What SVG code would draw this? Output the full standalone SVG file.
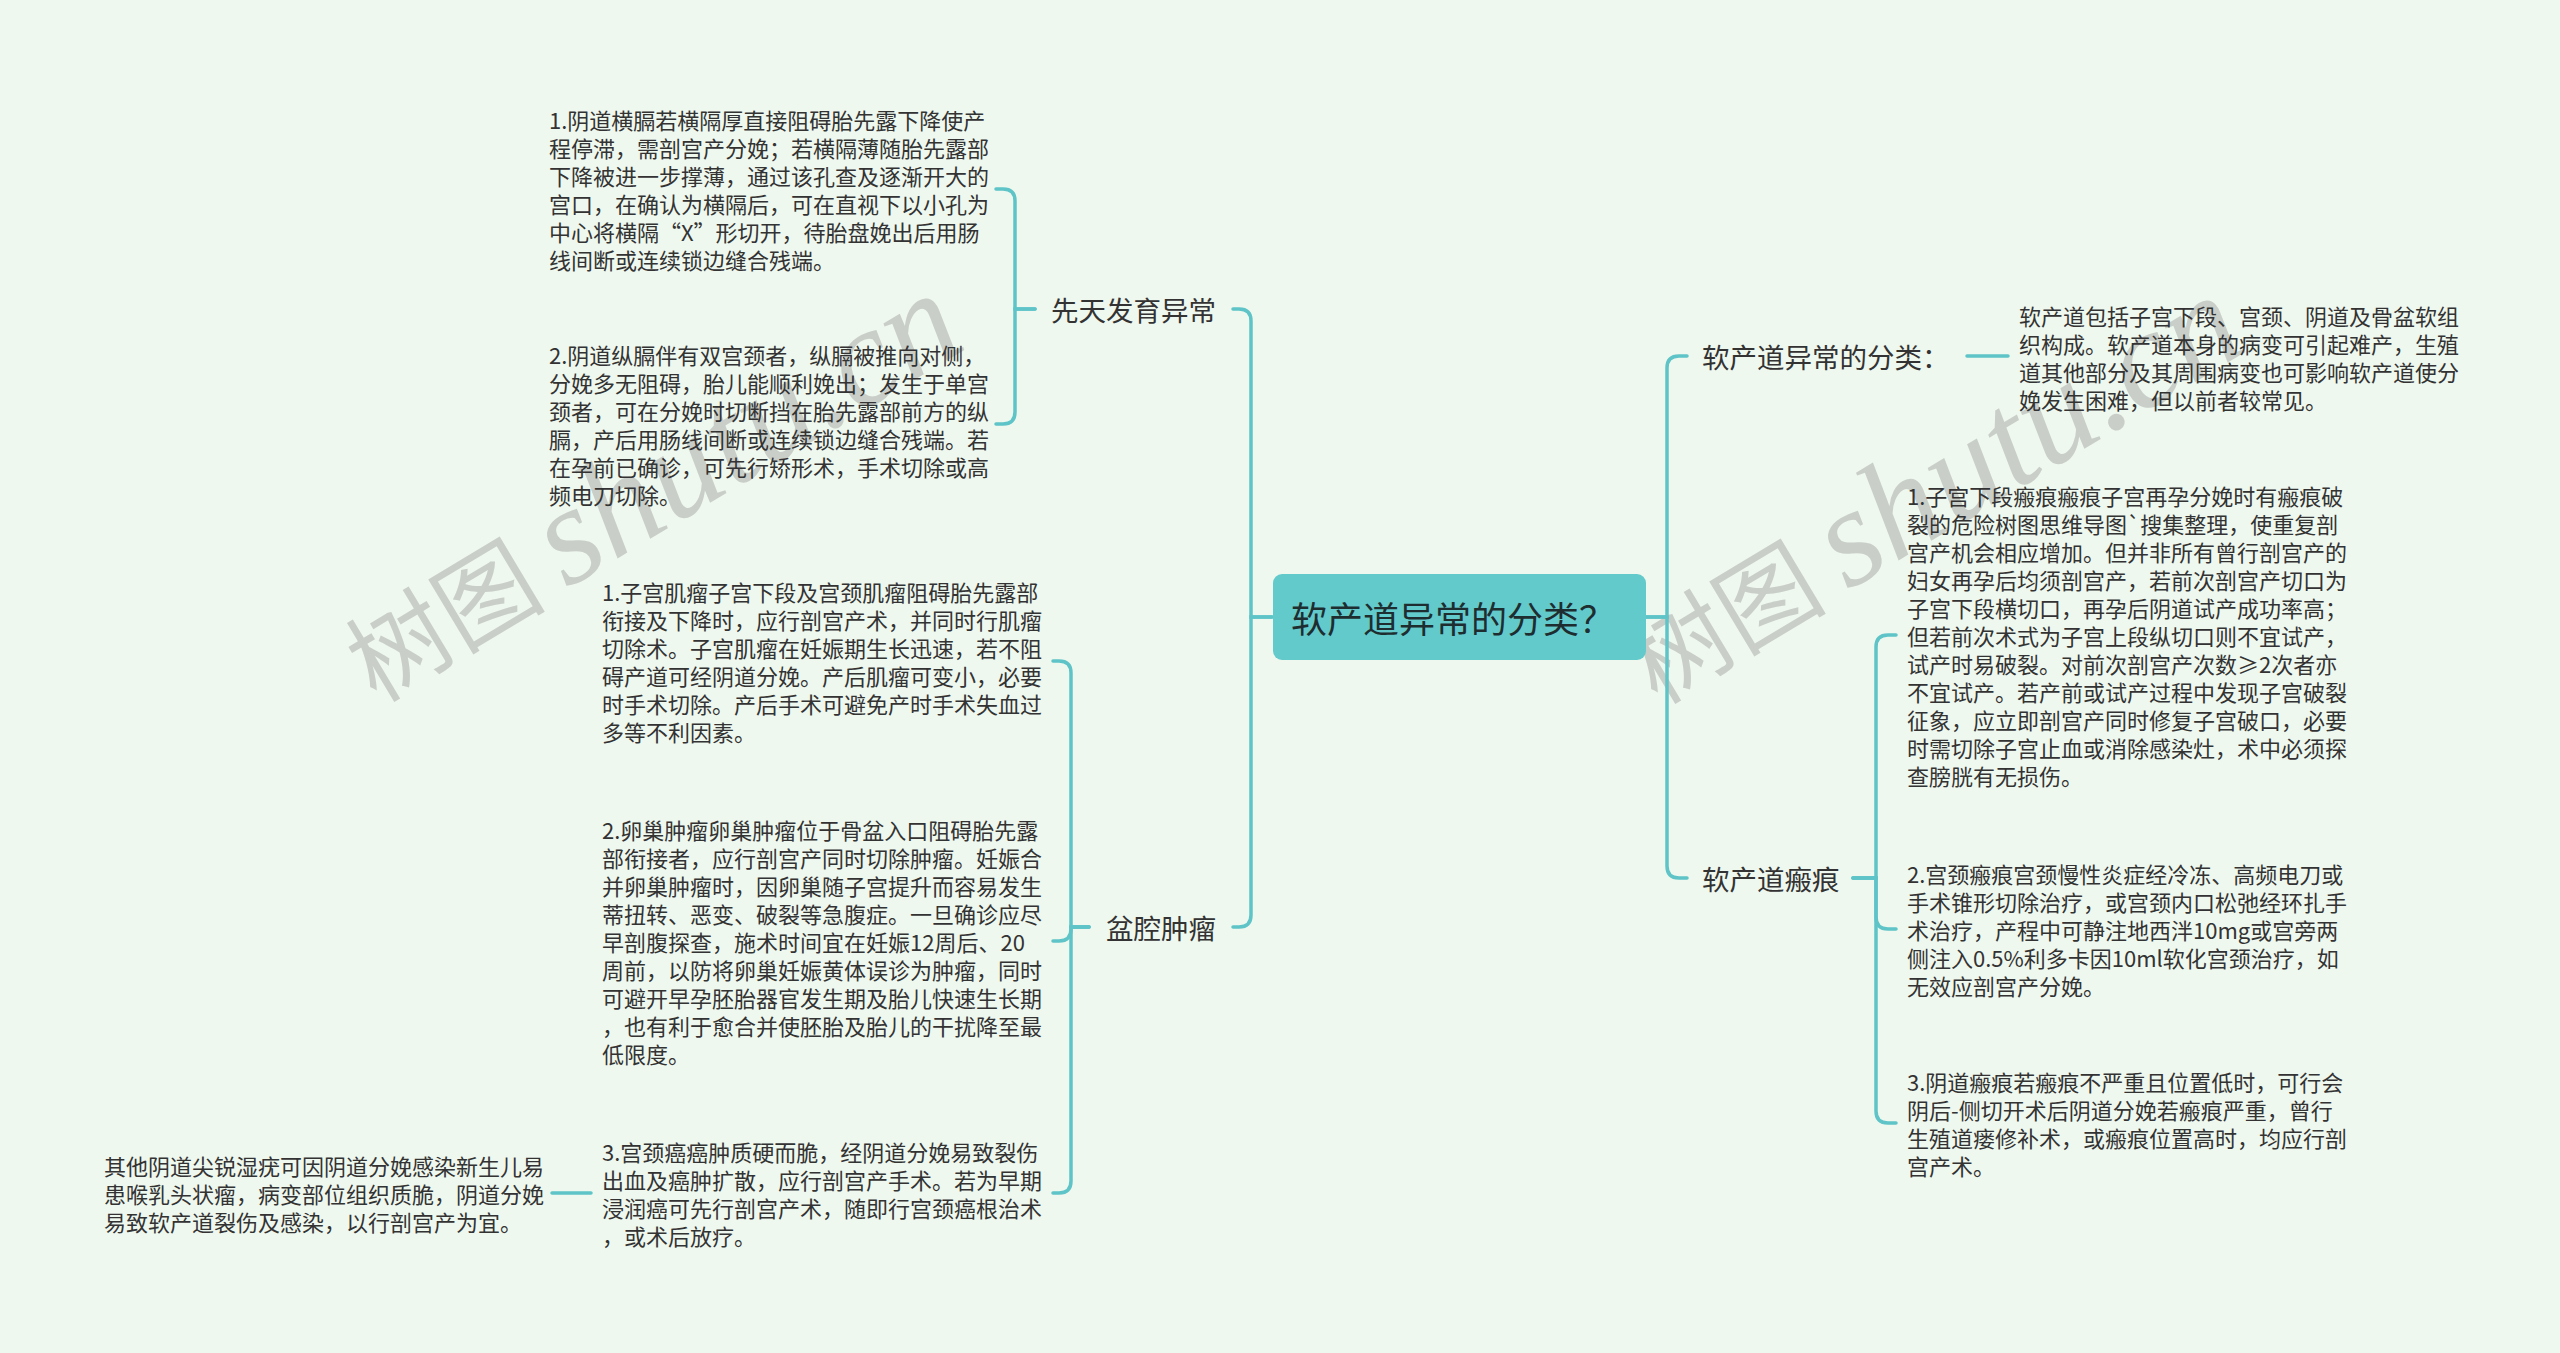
<svg xmlns="http://www.w3.org/2000/svg" width="2560" height="1353" viewBox="0 0 2560 1353">
<style>
text, tspan { font-family: "Noto Sans CJK SC", "Noto Sans", sans-serif; dominant-baseline: central; }
.bg { fill: #eff8ef; }
.wm { fill: #c9cec9; }
.wm tspan { dominant-baseline: alphabetic; }
.wm tspan.lat { font-family: "Liberation Serif", serif; font-style: italic; }
.wm tspan.cjk { font-family: "Noto Sans CJK SC", sans-serif; }
.link { fill: none; stroke: #5fc4c7; stroke-width: 3.5; stroke-linecap: round; }
.root rect { fill: #63cacc; }
.root text { font-size: 36px; fill: #1e2e30; }
.l1 { font-size: 27.5px; fill: #333333; }
.leaf { font-size: 22px; fill: #333333; }
</style>
<rect class="bg" x="0" y="0" width="2560" height="1353"/>

<g id="watermarks">
  <text class="wm" transform="translate(376,703) rotate(-31)"><tspan class="cjk" font-size="100">树图</tspan><tspan class="lat" font-size="140" dx="22">shutu.cn</tspan></text>
  <text class="wm" transform="translate(1657,705) rotate(-31)"><tspan class="cjk" font-size="100">树图</tspan><tspan class="lat" font-size="140" dx="22">shutu.cn</tspan></text>
</g>

<g id="connectors">
  <path class="link" d="M1272 617 H1251 V321 Q1251 309 1239 309 H1233"/>
  <path class="link" d="M1272 617 H1251 V915 Q1251 927 1239 927 H1233"/>
  <path class="link" d="M1646 617 H1667 V368 Q1667 356 1679 356 H1687"/>
  <path class="link" d="M1646 617 H1667 V866 Q1667 878 1679 878 H1687"/>
  <path class="link" d="M1035 309 H1015 V201 Q1015 189 1003 189 H996"/>
  <path class="link" d="M1035 309 H1015 V412 Q1015 424 1003 424 H996"/>
  <path class="link" d="M1089 927 H1071 V673 Q1071 661 1059 661 H1053"/>
  <path class="link" d="M1089 927 H1071 V929 Q1071 941 1059 941 H1053"/>
  <path class="link" d="M1089 927 H1071 V1181 Q1071 1193 1059 1193 H1053"/>
  <path class="link" d="M591 1193 H552"/>
  <path class="link" d="M1967 356 H2008"/>
  <path class="link" d="M1853 878 H1876 V647 Q1876 635 1888 635 H1896"/>
  <path class="link" d="M1853 878 H1876 V917 Q1876 929 1888 929 H1896"/>
  <path class="link" d="M1853 878 H1876 V1111 Q1876 1123 1888 1123 H1896"/>
</g>

<g id="root" class="root">
  <rect x="1273" y="574" width="373" height="86" rx="9"/>
  <text x="1291" y="617">软产道异常的分类？</text>
</g>

<g id="n-xiantian">
  <text class="l1" x="1216" y="309" text-anchor="end">先天发育异常</text>
</g>
<g id="n-xiantian-1">
  <text class="leaf">
    <tspan x="549" y="119">1.阴道横膈若横隔厚直接阻碍胎先露下降使产</tspan>
    <tspan x="549" y="147">程停滞，需剖宫产分娩；若横隔薄随胎先露部</tspan>
    <tspan x="549" y="175">下降被进一步撑薄，通过该孔查及逐渐开大的</tspan>
    <tspan x="549" y="203">宫口，在确认为横隔后，可在直视下以小孔为</tspan>
    <tspan x="549" y="231">中心将横隔“X”形切开，待胎盘娩出后用肠</tspan>
    <tspan x="549" y="259">线间断或连续锁边缝合残端。</tspan>
  </text>
</g>
<g id="n-xiantian-2">
  <text class="leaf">
    <tspan x="549" y="354">2.阴道纵膈伴有双宫颈者，纵膈被推向对侧，</tspan>
    <tspan x="549" y="382">分娩多无阻碍，胎儿能顺利娩出；发生于单宫</tspan>
    <tspan x="549" y="410">颈者，可在分娩时切断挡在胎先露部前方的纵</tspan>
    <tspan x="549" y="438">膈，产后用肠线间断或连续锁边缝合残端。若</tspan>
    <tspan x="549" y="466">在孕前已确诊，可先行矫形术，手术切除或高</tspan>
    <tspan x="549" y="494">频电刀切除。</tspan>
  </text>
</g>

<g id="n-penqiang">
  <text class="l1" x="1216" y="927" text-anchor="end">盆腔肿瘤</text>
</g>
<g id="n-penqiang-1">
  <text class="leaf">
    <tspan x="602" y="591">1.子宫肌瘤子宫下段及宫颈肌瘤阻碍胎先露部</tspan>
    <tspan x="602" y="619">衔接及下降时，应行剖宫产术，并同时行肌瘤</tspan>
    <tspan x="602" y="647">切除术。子宫肌瘤在妊娠期生长迅速，若不阻</tspan>
    <tspan x="602" y="675">碍产道可经阴道分娩。产后肌瘤可变小，必要</tspan>
    <tspan x="602" y="703">时手术切除。产后手术可避免产时手术失血过</tspan>
    <tspan x="602" y="731">多等不利因素。</tspan>
  </text>
</g>
<g id="n-penqiang-2">
  <text class="leaf">
    <tspan x="602" y="829">2.卵巢肿瘤卵巢肿瘤位于骨盆入口阻碍胎先露</tspan>
    <tspan x="602" y="857">部衔接者，应行剖宫产同时切除肿瘤。妊娠合</tspan>
    <tspan x="602" y="885">并卵巢肿瘤时，因卵巢随子宫提升而容易发生</tspan>
    <tspan x="602" y="913">蒂扭转、恶变、破裂等急腹症。一旦确诊应尽</tspan>
    <tspan x="602" y="941">早剖腹探查，施术时间宜在妊娠12周后、20</tspan>
    <tspan x="602" y="969">周前，以防将卵巢妊娠黄体误诊为肿瘤，同时</tspan>
    <tspan x="602" y="997">可避开早孕胚胎器官发生期及胎儿快速生长期</tspan>
    <tspan x="602" y="1025">，也有利于愈合并使胚胎及胎儿的干扰降至最</tspan>
    <tspan x="602" y="1053">低限度。</tspan>
  </text>
</g>
<g id="n-penqiang-3">
  <text class="leaf">
    <tspan x="602" y="1151">3.宫颈癌癌肿质硬而脆，经阴道分娩易致裂伤</tspan>
    <tspan x="602" y="1179">出血及癌肿扩散，应行剖宫产手术。若为早期</tspan>
    <tspan x="602" y="1207">浸润癌可先行剖宫产术，随即行宫颈癌根治术</tspan>
    <tspan x="602" y="1235">，或术后放疗。</tspan>
  </text>
</g>
<g id="n-qita">
  <text class="leaf">
    <tspan x="104" y="1165">其他阴道尖锐湿疣可因阴道分娩感染新生儿易</tspan>
    <tspan x="104" y="1193">患喉乳头状瘤，病变部位组织质脆，阴道分娩</tspan>
    <tspan x="104" y="1221">易致软产道裂伤及感染，以行剖宫产为宜。</tspan>
  </text>
</g>

<g id="n-fenlei">
  <text class="l1" x="1702" y="356">软产道异常的分类：</text>
</g>
<g id="n-fenlei-1">
  <text class="leaf">
    <tspan x="2019" y="315">软产道包括子宫下段、宫颈、阴道及骨盆软组</tspan>
    <tspan x="2019" y="343">织构成。软产道本身的病变可引起难产，生殖</tspan>
    <tspan x="2019" y="371">道其他部分及其周围病变也可影响软产道使分</tspan>
    <tspan x="2019" y="399">娩发生困难，但以前者较常见。</tspan>
  </text>
</g>

<g id="n-banhen">
  <text class="l1" x="1702" y="878">软产道瘢痕</text>
</g>
<g id="n-banhen-1">
  <text class="leaf">
    <tspan x="1907" y="495">1.子宫下段瘢痕瘢痕子宫再孕分娩时有瘢痕破</tspan>
    <tspan x="1907" y="523">裂的危险树图思维导图`搜集整理，使重复剖</tspan>
    <tspan x="1907" y="551">宫产机会相应增加。但并非所有曾行剖宫产的</tspan>
    <tspan x="1907" y="579">妇女再孕后均须剖宫产，若前次剖宫产切口为</tspan>
    <tspan x="1907" y="607">子宫下段横切口，再孕后阴道试产成功率高；</tspan>
    <tspan x="1907" y="635">但若前次术式为子宫上段纵切口则不宜试产，</tspan>
    <tspan x="1907" y="663">试产时易破裂。对前次剖宫产次数≥2次者亦</tspan>
    <tspan x="1907" y="691">不宜试产。若产前或试产过程中发现子宫破裂</tspan>
    <tspan x="1907" y="719">征象，应立即剖宫产同时修复子宫破口，必要</tspan>
    <tspan x="1907" y="747">时需切除子宫止血或消除感染灶，术中必须探</tspan>
    <tspan x="1907" y="775">查膀胱有无损伤。</tspan>
  </text>
</g>
<g id="n-banhen-2">
  <text class="leaf">
    <tspan x="1907" y="873">2.宫颈瘢痕宫颈慢性炎症经冷冻、高频电刀或</tspan>
    <tspan x="1907" y="901">手术锥形切除治疗，或宫颈内口松弛经环扎手</tspan>
    <tspan x="1907" y="929">术治疗，产程中可静注地西泮10mg或宫旁两</tspan>
    <tspan x="1907" y="957">侧注入0.5%利多卡因10ml软化宫颈治疗，如</tspan>
    <tspan x="1907" y="985">无效应剖宫产分娩。</tspan>
  </text>
</g>
<g id="n-banhen-3">
  <text class="leaf">
    <tspan x="1907" y="1081">3.阴道瘢痕若瘢痕不严重且位置低时，可行会</tspan>
    <tspan x="1907" y="1109">阴后-侧切开术后阴道分娩若瘢痕严重，曾行</tspan>
    <tspan x="1907" y="1137">生殖道瘘修补术，或瘢痕位置高时，均应行剖</tspan>
    <tspan x="1907" y="1165">宫产术。</tspan>
  </text>
</g>
</svg>
